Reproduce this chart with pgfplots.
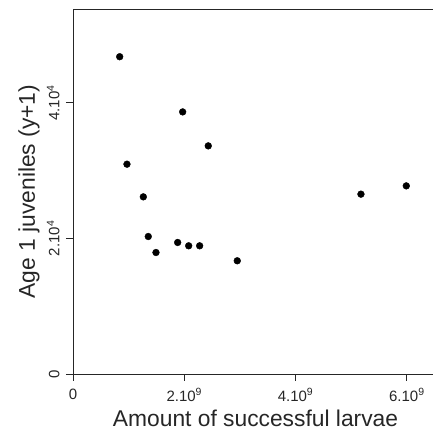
\documentclass[border=0pt]{standalone}
\usepackage{fontspec}
\setmainfont{Liberation Sans}
\usepackage{pgfplots}
\pgfplotsset{compat=1.18}
\begin{document}
\begin{tikzpicture}
\useasboundingbox (-73pt,-56pt) rectangle (360pt,374pt);
\begin{axis}[
  at={(0pt,0pt)}, anchor=south west,
  scale only axis,
  width=360pt, height=365pt,
  xmin=0, xmax=6.47e9,
  ymin=0, ymax=53840,
  axis x line*=bottom,
  axis y line*=left,
  axis line style={line width=0.8pt, black!85},
  every tick/.style={line width=0.8pt, black!85},
  tick align=outside,
  major tick length=7pt,
  scaled ticks=false,
  /pgf/number format/assume math mode=true,
  xtick={0,2e9,4e9,6e9},
  xticklabels={0, 2.10\textsuperscript{9}, 4.10\textsuperscript{9}, 6.10\textsuperscript{9}},
  ytick={0,20000,40000},
  yticklabels={0, 2.10\textsuperscript{4}, 4.10\textsuperscript{4}},
  tick label style={font=\fontsize{15}{15}\selectfont, text=black!85},
  xticklabel style={yshift=-4pt},
  yticklabel style={xshift=-3pt, rotate=90, anchor=south},
  xlabel={Amount of successful larvae},
  label style={font=\fontsize{22.8}{23}\selectfont, text=black!85},
  xlabel style={at={(axis description cs:0.507,-0.1444)}, anchor=base},
  clip=false,
]
\addplot[only marks, mark=*, mark size=3.4pt, black] coordinates {
  (0.839e9,46800)
  (1.971e9,38660)
  (2.431e9,33650)
  (0.970e9,30950)
  (1.264e9,26130)
  (1.353e9,20280)
  (1.491e9,17920)
  (1.881e9,19400)
  (2.079e9,18910)
  (2.276e9,18910)
  (2.952e9,16700)
  (5.175e9,26530)
  (5.990e9,27750)
};
\draw[line width=0.8pt, black!85] (rel axis cs:0,1) -- (rel axis cs:1,1);
\node[rotate=90, scale=1.52, anchor=base, inner sep=0pt, font=\fontsize{15}{15}\selectfont, text=black!85]
  at (axis description cs:-0.1056,0.5) {Age 1 juveniles (y+1)};
\end{axis}
\end{tikzpicture}
\end{document}
